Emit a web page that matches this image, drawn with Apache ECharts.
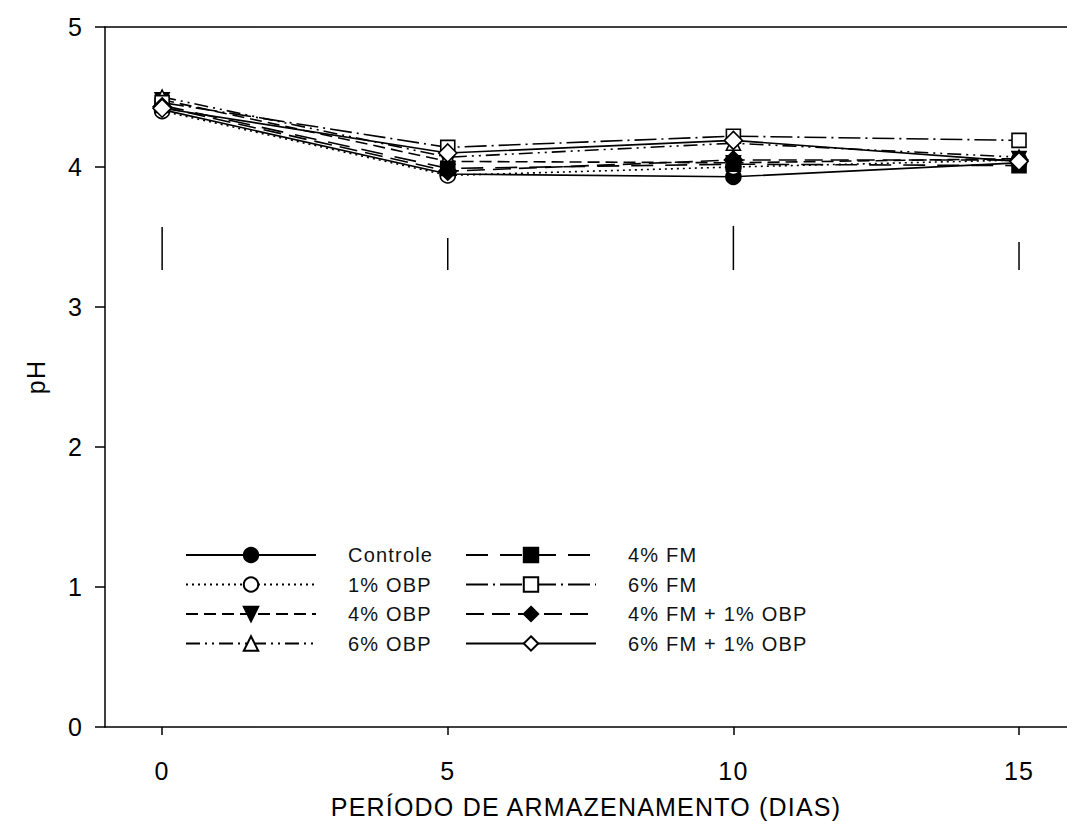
<!DOCTYPE html>
<html>
<head>
<meta charset="utf-8">
<script src="https://cdn.jsdelivr.net/npm/echarts@6/dist/echarts.min.js"></script>
<style>
html,body{margin:0;padding:0;background:#fff;}
#chart{width:1067px;height:839px;}
#chart svg text{letter-spacing:1.2px;}
</style>
</head>
<body>
<div id="chart"></div>
<script>
const days = [0, 5, 10, 15];
const xTicks = [0, 5, 10, 15];
const yTicks = [0, 1, 2, 3, 4, 5];
const seriesNames = ['Controle', '1% OBP', '4% OBP', '6% OBP', '4% FM', '6% FM', '4% FM + 1% OBP', '6% FM + 1% OBP'];
const controle   = [4.41, 3.95, 3.93, 4.03];
const obp1       = [4.40, 3.94, 4.00, 4.05];
const obp4       = [4.48, 4.04, 4.03, 4.06];
const obp6       = [4.50, 4.07, 4.17, 4.07];
const fm4        = [4.44, 3.99, 4.02, 4.01];
const fm6        = [4.46, 4.14, 4.22, 4.19];
const fm4obp1    = [4.43, 3.97, 4.05, 4.05];
const fm6obp1    = [4.42, 4.10, 4.19, 4.04];
const errLow     = [3.264, 3.264, 3.264, 3.264];
const errHigh    = [3.571, 3.493, 3.579, 3.464];

const values = [controle, obp1, obp4, obp6, fm4, fm6, fm4obp1, fm6obp1];
const styles = [
  {dash: 'solid', symbol: 'circle', filled: true, rot: 0, size: 15},
  {dash: [2, 4], symbol: 'circle', filled: false, rot: 0, size: 15},
  {dash: [12, 6], symbol: 'triangle', filled: true, rot: 180, size: 14},
  {dash: [14, 5, 2, 5, 2, 5], symbol: 'triangle', filled: false, rot: 0, size: 14},
  {dash: [22, 12], symbol: 'rect', filled: true, rot: 0, size: 14},
  {dash: [22, 5, 2, 5], symbol: 'rect', filled: false, rot: 0, size: 14},
  {dash: [18, 8], symbol: 'diamond', filled: true, rot: 0, size: 18},
  {dash: 'solid', symbol: 'diamond', filled: false, rot: 0, size: 18}
];

const series = seriesNames.map((name, i) => ({
  name: name,
  type: 'line',
  data: days.map((d, j) => [d, values[i][j]]),
  symbol: styles[i].symbol,
  symbolRotate: styles[i].rot,
  symbolSize: styles[i].size,
  showSymbol: true,
  lineStyle: {color: '#000', width: 1.6, type: styles[i].dash},
  itemStyle: {color: styles[i].filled ? '#000' : '#fff', borderColor: '#000', borderWidth: 1.6, opacity: 1},
  emphasis: {disabled: true},
  z: 2 + i,
  animation: false
}));

series.push({
  name: 'bars',
  type: 'custom',
  data: days.map((d, j) => [d, errLow[j], errHigh[j]]),
  renderItem: function (params, api) {
    const p1 = api.coord([api.value(0), api.value(1)]);
    const p2 = api.coord([api.value(0), api.value(2)]);
    return {type: 'line', shape: {x1: p1[0], y1: p1[1], x2: p2[0], y2: p2[1]}, style: {stroke: '#000', lineWidth: 1.5}};
  },
  animation: false,
  z: 1
});

const legendText = {fontFamily: 'Liberation Sans', fontSize: 20, color: '#111', padding: [0, 0, 0, 27]};
const chart = echarts.init(document.getElementById('chart'), null, {renderer: 'svg'});
chart.setOption({
  animation: false,
  backgroundColor: '#fff',
  grid: {left: 105, right: 0, top: 27, bottom: 112, containLabel: false},
  legend: [
    {data: seriesNames.slice(0, 4), orient: 'vertical', left: 185, top: 545, padding: 0, itemWidth: 130, itemHeight: 18, itemGap: 9.5, textStyle: legendText, selectedMode: false},
    {data: seriesNames.slice(4), orient: 'vertical', left: 465, top: 545, padding: 0, itemWidth: 130, itemHeight: 18, itemGap: 9.5, textStyle: legendText, selectedMode: false}
  ],
  xAxis: [{
    type: 'value', min: -1, max: 15.84,
    name: 'PERÍODO DE ARMAZENAMENTO (DIAS)', nameLocation: 'middle', nameGap: 67,
    nameTextStyle: {fontFamily: 'Liberation Sans', fontSize: 25, color: '#000'},
    axisLine: {show: true, onZero: false, lineStyle: {color: '#000', width: 1.5}},
    axisTick: {show: true, inside: false, length: 8, customValues: xTicks, lineStyle: {color: '#000', width: 1.5}},
    axisLabel: {customValues: xTicks, margin: 31, fontFamily: 'Liberation Sans', fontSize: 25, color: '#000'},
    splitLine: {show: false}
  }, {
    type: 'value', min: -1, max: 15.84, position: 'top',
    axisLine: {show: true, onZero: false, lineStyle: {color: '#000', width: 1.5}},
    axisTick: {show: false}, axisLabel: {show: false}, splitLine: {show: false}
  }],
  yAxis: {
    type: 'value', min: 0, max: 5, interval: 1,
    name: 'pH', nameLocation: 'middle', nameGap: 57, nameRotate: 90,
    nameTextStyle: {fontFamily: 'Liberation Sans', fontSize: 25, color: '#000'},
    axisLine: {show: true, onZero: false, lineStyle: {color: '#000', width: 1.5}},
    axisTick: {show: true, inside: false, length: 10, lineStyle: {color: '#000', width: 1.5}},
    axisLabel: {margin: 22, fontFamily: 'Liberation Sans', fontSize: 25, color: '#000', formatter: v => yTicks.includes(v) ? String(v) : ''},
    splitLine: {show: false}
  },
  series: series
});
</script>
</body>
</html>
